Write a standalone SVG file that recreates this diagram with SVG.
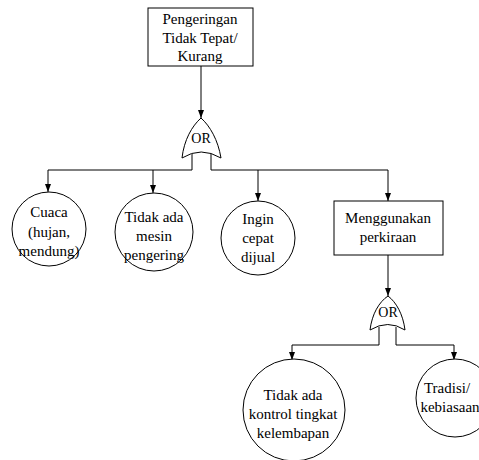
<svg xmlns="http://www.w3.org/2000/svg" width="479" height="460" viewBox="0 0 479 460">
<style>
.s{fill:#fff;stroke:#000;stroke-width:1}
.c{fill:none;stroke:#000;stroke-width:1}
text{font-family:"Liberation Serif","Times New Roman",serif;font-size:15px;fill:#000;text-anchor:middle}
.g{font-size:14px}
</style>
<defs>
<marker id="a" viewBox="0 0 8 8" refX="8" refY="4" markerWidth="8" markerHeight="8" markerUnits="userSpaceOnUse" orient="auto">
<path d="M0,1 L8,4 L0,7 Z" fill="#000"/>
</marker>
</defs>
<g id="connectors">
<path class="c" d="M201,66 V118" marker-end="url(#a)"/>
<path class="c" d="M192,154 V170 H48 V192" marker-end="url(#a)"/>
<path class="c" d="M153,170 V193" marker-end="url(#a)"/>
<path class="c" d="M211,154 V170 H388 V201" marker-end="url(#a)"/>
<path class="c" d="M258,170 V201" marker-end="url(#a)"/>
<path class="c" d="M388,255 V296" marker-end="url(#a)"/>
<path class="c" d="M379,327 V345 H292 V360" marker-end="url(#a)"/>
<path class="c" d="M396,327 V345 H454 V360" marker-end="url(#a)"/>
</g>
<g id="top">
<rect class="s" x="148" y="8" width="105" height="58"/>
<text x="200" y="24">Pengeringan</text>
<text x="200" y="43">Tidak Tepat/</text>
<text x="200" y="61">Kurang</text>
</g>
<g id="gate1">
<path class="s" d="M182,158 C184,140 192,126 201,118 C210,126 218,140 221,158 Q201,146 182,158 Z"/>
<text class="g" x="201" y="143">OR</text>
</g>
<g id="cuaca">
<circle class="s" cx="49" cy="229" r="37"/>
<text x="49" y="217">Cuaca</text>
<text x="49" y="237">(hujan,</text>
<text x="49" y="256">mendung)</text>
</g>
<g id="mesin">
<circle class="s" cx="154" cy="232" r="39"/>
<text x="154" y="222">Tidak ada</text>
<text x="154" y="241">mesin</text>
<text x="154" y="260">pengering</text>
</g>
<g id="ingin">
<circle class="s" cx="258" cy="238" r="37"/>
<text x="258" y="224">Ingin</text>
<text x="258" y="243">cepat</text>
<text x="258" y="262">dijual</text>
</g>
<g id="perkiraan">
<rect class="s" x="334" y="201" width="109" height="54"/>
<text x="388" y="223">Menggunakan</text>
<text x="388" y="242">perkiraan</text>
</g>
<g id="gate2">
<path class="s" d="M370,330 C372,314 379,302 388,296 C396,302 403,314 405,330 Q388,319 370,330 Z"/>
<text class="g" x="388" y="317">OR</text>
</g>
<g id="kontrol">
<circle class="s" cx="294" cy="410" r="51"/>
<text x="293" y="400">Tidak ada</text>
<text x="293" y="419">kontrol tingkat</text>
<text x="293" y="438">kelembapan</text>
</g>
<g id="tradisi">
<circle class="s" cx="455" cy="398" r="39"/>
<text x="447" y="393">Tradisi/</text>
<text x="450" y="412">kebiasaan</text>
</g>
</svg>
